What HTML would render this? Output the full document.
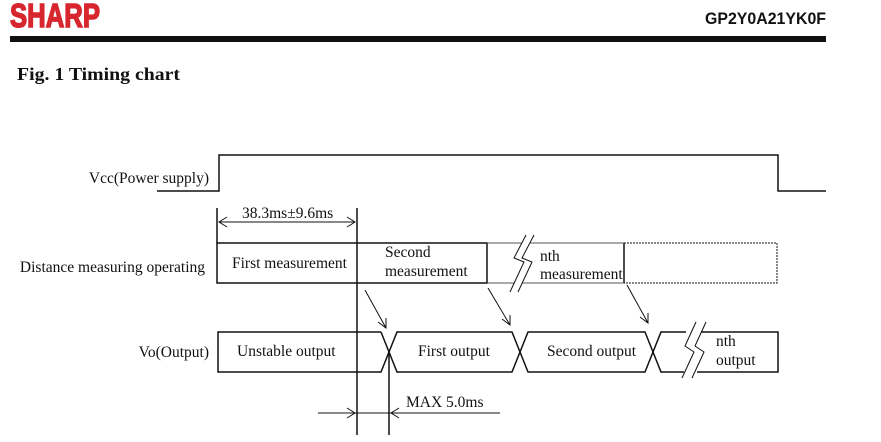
<!DOCTYPE html>
<html><head><meta charset="utf-8"><style>
body{margin:0;background:#fff;width:881px;height:442px;overflow:hidden}
svg{display:block}
</style></head><body>
<svg width="881" height="442" xmlns="http://www.w3.org/2000/svg">
<text x="10" y="27" font-family="Liberation Sans, sans-serif" font-weight="bold" font-size="33" fill="#d8262e" stroke="#d8262e" stroke-width="1.5" textLength="90" lengthAdjust="spacingAndGlyphs">SHARP</text>
<text x="826" y="24" text-anchor="end" font-family="Liberation Sans, sans-serif" font-weight="bold" font-size="17" fill="#111" textLength="121" lengthAdjust="spacingAndGlyphs">GP2Y0A21YK0F</text>
<rect x="10" y="36" width="816" height="6" fill="#111"/>
<text x="17" y="80" font-family="Liberation Serif, serif" font-weight="bold" font-size="18" fill="#111" textLength="163" lengthAdjust="spacingAndGlyphs">Fig. 1 Timing chart</text>
<g font-family="Liberation Serif, serif" font-size="15.5" fill="#111">
<text x="209" y="183" text-anchor="end">Vcc(Power supply)</text>
<text x="205" y="272" text-anchor="end">Distance measuring operating</text>
<text x="209" y="357" text-anchor="end">Vo(Output)</text>
<text x="242" y="218">38.3ms±9.6ms</text>
<text x="232" y="268">First measurement</text>
<text x="385" y="257">Second</text>
<text x="385" y="276">measurement</text>
<text x="540" y="261">nth</text>
<text x="540" y="279">measurement</text>
<text x="237" y="356">Unstable output</text>
<text x="418" y="356">First output</text>
<text x="547" y="356">Second output</text>
<text x="716" y="346">nth</text>
<text x="716" y="365">output</text>
<text x="406" y="407">MAX 5.0ms</text>
</g>
<g stroke="#111" fill="none" stroke-width="1.5">
<polyline points="157,191 219,191 219,155 778,155 778,191 826,191"/>
<line x1="217" y1="208" x2="217" y2="243"/>
<line x1="357" y1="208" x2="357" y2="435"/>
<line x1="389" y1="350" x2="389" y2="435"/>
<line x1="219" y1="222" x2="355" y2="222" stroke-width="1"/>
<polyline points="227,217 219,222 227,227" stroke-width="1"/>
<polyline points="347,217 355,222 347,227" stroke-width="1"/>
<rect x="217" y="243" width="270" height="40"/>
<line x1="624" y1="243" x2="624" y2="283"/>
<line x1="487" y1="243" x2="624" y2="243" stroke-width="1" stroke="#555"/>
<line x1="487" y1="283" x2="624" y2="283" stroke-width="1" stroke="#555"/>
<path d="M530,235 L518,258 L528,262 L514,292" stroke="#fff" stroke-width="8"/>
<path d="M534,235 L522,258 L532,262 L518,292 M526,235 L514,258 L524,262 L510,292" stroke-width="1"/>
<path d="M624,243 H777 V283 H624" stroke-dasharray="2,1" stroke-width="1"/>
<polyline points="381,332 218,332 218,372 381,372 397,332 512,332 528,372 645,372 661,332 686,332"/>
<polyline points="381,332 397,372 512,372 528,332 645,332 661,372 684,372"/>
<polyline points="701,332 778,332 778,372 697,372"/>
<path d="M696,322 L685,346 L694,352 L682,378" stroke-width="1"/>
<path d="M706,322 L695,346 L704,352 L692,378" stroke-width="1"/>
<g stroke-width="1">
<line x1="365" y1="290" x2="386" y2="328"/><polyline points="378,322 386,328 386,318"/>
<line x1="488" y1="288" x2="510" y2="325"/><polyline points="502,319 510,325 510,315"/>
<line x1="627" y1="285" x2="648" y2="323"/><polyline points="640,317 648,323 648,313"/>
<line x1="318" y1="413" x2="500" y2="413"/>
<polyline points="347,408 355,413 347,418"/>
<polyline points="399,408 391,413 399,418"/>
</g>
</g>
</svg>
</body></html>
